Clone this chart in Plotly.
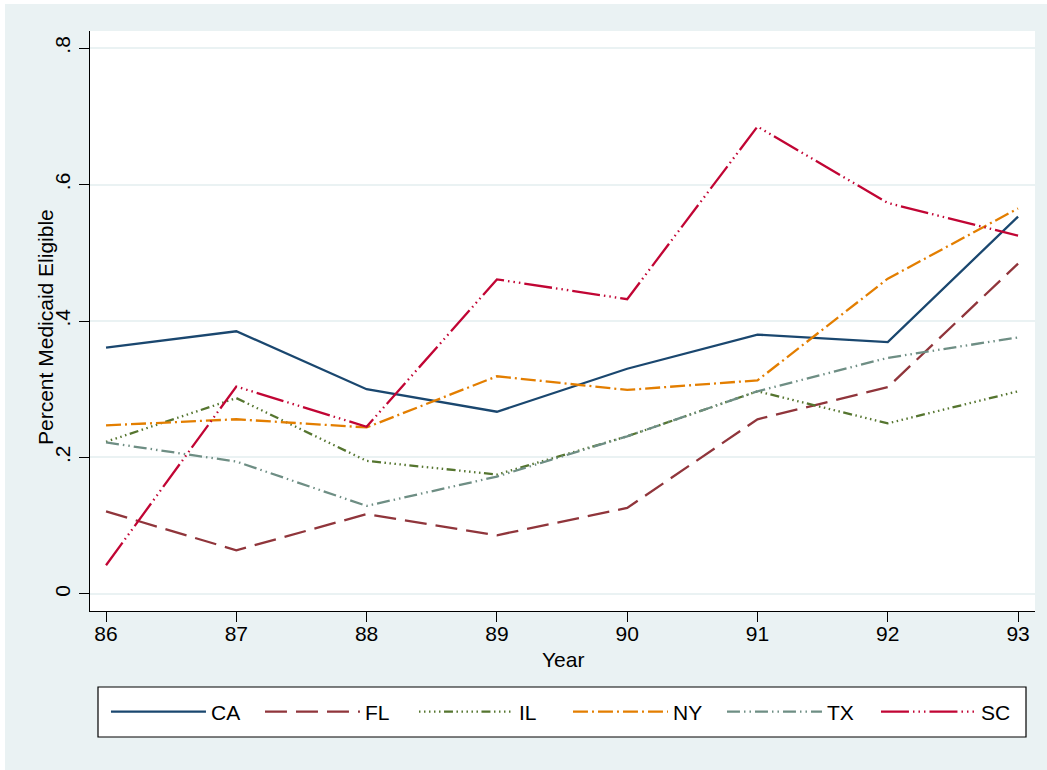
import plotly.graph_objects as go

years = [86, 87, 88, 89, 90, 91, 92, 93]
ca = [0.361, 0.385, 0.300, 0.267, 0.330, 0.380, 0.369, 0.553]
fl = [0.121, 0.064, 0.117, 0.086, 0.126, 0.256, 0.303, 0.484]
il = [0.223, 0.287, 0.195, 0.175, 0.231, 0.297, 0.250, 0.297]
ny = [0.247, 0.256, 0.244, 0.319, 0.299, 0.313, 0.462, 0.565]
tx = [0.222, 0.194, 0.129, 0.172, 0.231, 0.297, 0.346, 0.376]
sc = [0.042, 0.304, 0.245, 0.461, 0.432, 0.685, 0.573, 0.525]

series_names = ["CA", "FL", "IL", "NY", "TX", "SC"]
series_values = [ca, fl, il, ny, tx, sc]
colors = ["#1A476F", "#90353B", "#55752F", "#E37E00", "#6E8E84", "#C10534"]
dashes = [
    "solid",
    "22px,9px",
    "1.5px,3.5px,1.5px,3.5px,1.5px,3.5px,1.5px,3.5px,1.5px,3.5px,9px,3.5px",
    "15px,4px,2px,4px",
    "13px,4px,1.5px,4px,1.5px,4px",
    "28px,4px,1.5px,4px,1.5px,4px,1.5px,4px",
]

ytick_vals = [0, 0.2, 0.4, 0.6, 0.8]
ytick_text = ["0", ".2", ".4", ".6", ".8"]
xtick_text = ["86", "87", "88", "89", "90", "91", "92", "93"]
x_title = "Year"
y_title = "Percent Medicaid Eligible"

BG = "#EAF2F3"
FONT = "Liberation Sans, Arial, sans-serif"
FS = 21

fig = go.Figure()
for name, vals, col, dash in zip(series_names, series_values, colors, dashes):
    fig.add_trace(go.Scatter(
        x=years, y=vals, mode="lines", name=name,
        line=dict(color=col, width=2.3, dash=dash),
    ))

fig.update_layout(
    width=1042, height=766,
    paper_bgcolor=BG, plot_bgcolor="white",
    margin=dict(l=85, r=12, t=27, b=159, autoexpand=False),
    font=dict(family=FONT, size=FS, color="black"),
    showlegend=True,
    legend=dict(
        orientation="h", x=0.0169, y=-0.174, xanchor="left", yanchor="middle",
        bgcolor="rgba(0,0,0,0)", borderwidth=0,
        entrywidth=44, itemwidth=95,
        font=dict(family=FONT, size=FS, color="black"),
    ),
    shapes=[
        dict(type="rect", xref="paper", yref="paper",
             x0=(98 - 90) / 945, x1=(1026 - 90) / 945,
             y0=(611 - 737) / 580, y1=(611 - 687) / 580,
             fillcolor="white", line=dict(color="black", width=1.2),
             layer="below"),
    ],
    annotations=[
        dict(text=x_title, xref="paper", yref="paper", x=0.5, y=0,
             xanchor="center", yanchor="middle", yshift=-48, showarrow=False,
             font=dict(family=FONT, size=FS, color="black")),
        dict(text=y_title, xref="paper", yref="paper", x=0, y=0.5,
             xanchor="center", yanchor="middle", xshift=-45, yshift=-6,
             textangle=-90, showarrow=False,
             font=dict(family=FONT, size=FS, color="black")),
    ],
)
fig.update_xaxes(
    range=[85.877, 93.13], tickvals=years, ticktext=xtick_text,
    showgrid=False, zeroline=False,
    showline=True, linecolor="black", linewidth=1.3,
    ticks="outside", ticklen=10, tickcolor="black", tickwidth=1.3,
    ticklabelstandoff=-6,
)
fig.update_yaxes(
    range=[-0.025, 0.825], tickvals=ytick_vals, ticktext=ytick_text,
    tickangle=-90,
    showgrid=True, gridcolor=BG, gridwidth=2, zeroline=False,
    showline=True, linecolor="black", linewidth=1.3,
    ticks="outside", ticklen=10, tickcolor="black", tickwidth=1.3,
)

fig.write_html("out.html", post_script="document.body.style.margin='4px 0 0 5px';")
